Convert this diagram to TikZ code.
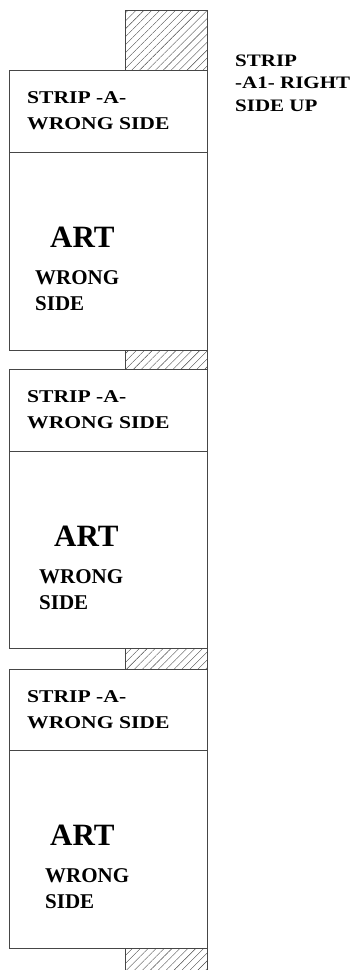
\documentclass[tikz,border=0pt]{standalone}
\usepackage{fontspec}
\setmainfont{Liberation Serif}
\newfontfamily\stripfont[FakeStretch=1.2]{Liberation Serif}
\usepackage{tikz}
\usetikzlibrary{patterns.meta}
\definecolor{edge}{RGB}{70,70,70}
\tikzset{
  panel/.style={draw=edge,line width=0.8pt},
  hatch/.style={pattern={Lines[angle=45,distance=5.6pt,line width=0.4pt]},pattern color=edge},
  striplabel/.style={anchor=base west,inner sep=0pt,align=left,font=\stripfont\bfseries\fontsize{18}{26}\selectfont},
  arttitle/.style={anchor=base west,inner sep=0pt,font=\bfseries\fontsize{31}{31}\selectfont},
  artlabel/.style={anchor=base west,inner sep=0pt,align=left,font=\bfseries\fontsize{21}{26}\selectfont}
}

\begin{document}
\begin{tikzpicture}[x=1pt,y=-1pt]
	\useasboundingbox (0,0) rectangle (358,970);
	% top tab, strip A1 right side up (base = last line)
	\fill[hatch] (125,10) rectangle (207,70);
	\draw[panel] (125,70) -- (125,10) -- (207,10) -- (207,70);
	\node[striplabel,font=\stripfont\bfseries\fontsize{17.5}{22.5}\selectfont] (upnote) at (235,111)
		{STRIP\\-A1- RIGHT\\SIDE UP};
	% three strip + art panels: strip top / art top / art bottom / ART x / WRONG x
	\foreach \t/\m/\b/\ax/\wx/\n in {70/152/350/50/35/1, 369/451/648/54/39/2, 669/750/948/50/45/3}{
		\draw[panel] (9,\t) rectangle (207,\m);
		\draw[panel] (9,\m) rectangle (207,\b);
		\node[striplabel] (strip\n) at (27,\t+59) {STRIP -A-\\WRONG SIDE};
		\node[arttitle] (art\n) at (\ax,\m+95) {ART};
		\node[artlabel] (side\n) at (\wx,\m+158) {WRONG\\SIDE};
	}
	% hatched gaps between panels
	\fill[hatch] (125,350) rectangle (207,369);
	\draw[panel] (125,350) -- (125,369);
	\draw[panel] (207,350) -- (207,369);
	\fill[hatch] (125,648) rectangle (207,669);
	\draw[panel] (125,648) -- (125,669);
	\draw[panel] (207,648) -- (207,669);
	% tail tab at the bottom
	\fill[hatch] (125,948) rectangle (207,970);
	\draw[panel] (125,948) -- (125,970);
	\draw[panel] (207,948) -- (207,970);
\end{tikzpicture}
\end{document}
